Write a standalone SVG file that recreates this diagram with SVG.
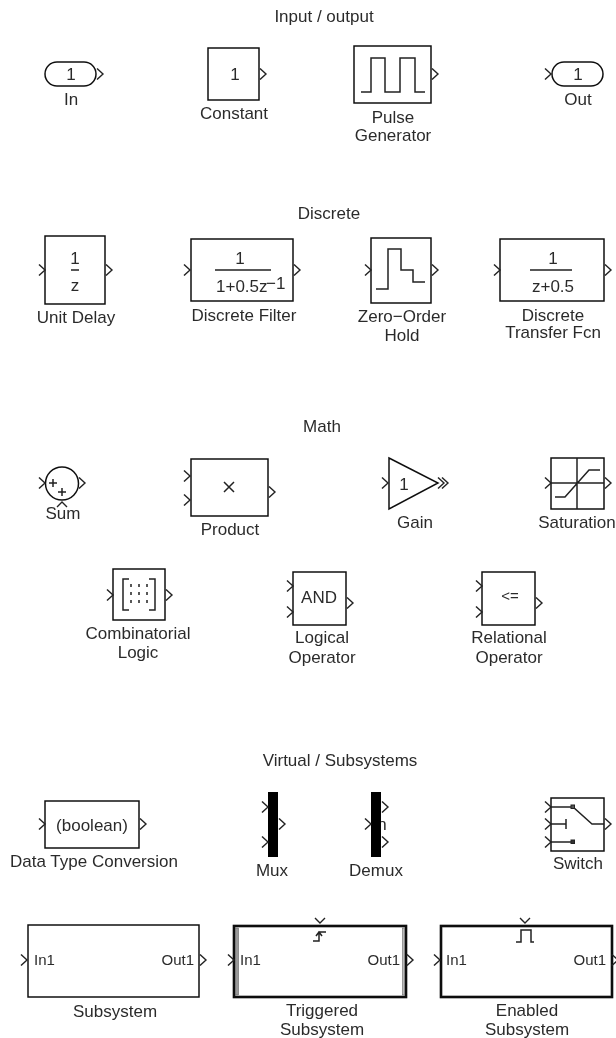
<svg xmlns="http://www.w3.org/2000/svg" width="616" height="1038" viewBox="0 0 616 1038">
<style>
text{font-family:"Liberation Sans",Arial,sans-serif;font-size:17px;fill:#2c2c2c;text-anchor:middle}
.b{fill:#fff;stroke:#111;stroke-width:1.5}
.t{fill:none;stroke:#111;stroke-width:2.6}
.l{fill:none;stroke:#222;stroke-width:1.5}
.p{fill:none;stroke:#222;stroke-width:1.4}
.s{text-anchor:start}.e{text-anchor:end}
.f{font-size:15px}
</style>
<defs>
<filter id="soft" x="0" y="0" width="100%" height="100%"><feGaussianBlur stdDeviation="0.3"/></filter>
<path id="pr" class="p" d="M0-5.500L6 0L0 5.500"/>
<path id="pd" class="p" d="M-5 0L0 5L5 0"/>
</defs>
<rect width="616" height="1038" fill="#fff"/>
<g filter="url(#soft)">
<g id="titles">
<text x="324" y="22">Input / output</text>
<text x="329" y="219">Discrete</text>
<text x="322" y="432">Math</text>
<text x="340" y="766">Virtual / Subsystems</text>
</g>
<g id="in"><rect class="b" x="45" y="62" width="51" height="24" rx="12"/><text x="71" y="80">1</text><use href="#pr" x="97" y="74"/><text x="71" y="105">In</text></g>
<g id="constant"><rect class="b" x="208" y="48" width="51" height="52"/><text x="235" y="80">1</text><use href="#pr" x="260" y="74"/><text x="234" y="119">Constant</text></g>
<g id="pulse"><rect class="b" x="354" y="46" width="77" height="57"/><path class="l" d="M361 92H371V58H385V92H400V58H415V92H425"/><use href="#pr" x="432" y="74"/><text x="393" y="123">Pulse</text><text x="393" y="141">Generator</text></g>
<g id="out"><rect class="b" x="552" y="62" width="51" height="24" rx="12"/><text x="578" y="80">1</text><use href="#pr" x="545" y="74"/><text x="578" y="105">Out</text></g>

<g id="unit-delay"><rect class="b" x="45" y="236" width="60" height="68"/><text x="75" y="264">1</text><path class="l" d="M71 270H79"/><text x="75" y="291">z</text><use href="#pr" x="39" y="270"/><use href="#pr" x="106" y="270"/><text x="76" y="323">Unit Delay</text></g>
<g id="discrete-filter"><rect class="b" x="191" y="239" width="102" height="62"/><text x="240" y="264">1</text><path class="l" d="M215 270H271"/><text class="s" x="216" y="292">1+0.5z</text><text class="s" x="266" y="289">−1</text><use href="#pr" x="184" y="270"/><use href="#pr" x="294" y="270"/><text x="244" y="321">Discrete Filter</text></g>
<g id="zoh"><rect class="b" x="371" y="238" width="60" height="65"/><path class="l" d="M376 289H388V249H401V270H413V282H425"/><use href="#pr" x="365" y="270"/><use href="#pr" x="432" y="270"/><text x="402" y="322">Zero−Order</text><text x="402" y="341">Hold</text></g>
<g id="dtf"><rect class="b" x="500" y="239" width="104" height="62"/><text x="553" y="264">1</text><path class="l" d="M530 270H572"/><text x="553" y="292">z+0.5</text><use href="#pr" x="494" y="270"/><use href="#pr" x="605" y="270"/><text x="553" y="321">Discrete</text><text x="553" y="338">Transfer Fcn</text></g>

<g id="sum"><circle class="b" cx="62" cy="483.500" r="16.500"/><path class="l" d="M49 483H57M53 479V487M58 492H66M62 488V496"/><use href="#pr" x="39" y="483"/><use href="#pr" x="79" y="483"/><path class="p" d="M57 507L62 502L67 507"/><text x="63" y="519">Sum</text></g>
<g id="product"><rect class="b" x="191" y="459" width="77" height="57"/><path class="l" d="M224 482L234 492M234 482L224 492"/><use href="#pr" x="184" y="476"/><use href="#pr" x="184" y="500"/><use href="#pr" x="269" y="492"/><text x="230" y="535">Product</text></g>
<g id="gain"><path class="b" d="M389 458L438 483L389 509Z"/><text x="404" y="490">1</text><use href="#pr" x="382" y="483"/><use href="#pr" x="438" y="483"/><use href="#pr" x="442" y="483"/><text x="415" y="528">Gain</text></g>
<g id="saturation"><rect class="b" x="551" y="458" width="53" height="51"/><path class="l" d="M577 458V509M551 483H604M555 497H565L589 470H600"/><use href="#pr" x="545" y="483"/><use href="#pr" x="605" y="483"/><text x="577" y="528">Saturation</text></g>

<g id="comb"><rect class="b" x="113" y="569" width="52" height="51"/><path class="l" d="M129 579H123V610H129M149 579H155V610H149"/><path d="M131 584v3M139 584v3M147 584v3M131 592v3M139 592v3M147 592v3M131 600v3M139 600v3M147 600v3" class="l"/><use href="#pr" x="107" y="595"/><use href="#pr" x="166" y="595"/><text x="138" y="639">Combinatorial</text><text x="138" y="658">Logic</text></g>
<g id="logical"><rect class="b" x="293" y="572" width="53" height="53"/><text x="319" y="603">AND</text><use href="#pr" x="287" y="586"/><use href="#pr" x="287" y="612"/><use href="#pr" x="347" y="603"/><text x="322" y="643">Logical</text><text x="322" y="663">Operator</text></g>
<g id="relational"><rect class="b" x="482" y="572" width="53" height="53"/><text class="f" x="510" y="601">&lt;=</text><use href="#pr" x="476" y="586"/><use href="#pr" x="476" y="612"/><use href="#pr" x="536" y="603"/><text x="509" y="643">Relational</text><text x="509" y="663">Operator</text></g>

<g id="dtc"><rect class="b" x="45" y="801" width="94" height="47"/><text x="92" y="831">(boolean)</text><use href="#pr" x="39" y="824"/><use href="#pr" x="140" y="824"/><text x="94" y="867">Data Type Conversion</text></g>
<g id="mux"><rect x="268" y="792" width="10" height="65" fill="#000"/><use href="#pr" x="262" y="807"/><use href="#pr" x="262" y="842"/><use href="#pr" x="279" y="824"/><text x="272" y="876">Mux</text></g>
<g id="demux"><text x="382" y="830">n</text><rect x="371" y="792" width="10" height="65" fill="#000"/><use href="#pr" x="365" y="824"/><use href="#pr" x="382" y="807"/><use href="#pr" x="382" y="842"/><text x="376" y="876">Demux</text></g>
<g id="switch"><rect class="b" x="551" y="798" width="53" height="53"/><path class="l" d="M551 807H573L592 824H604M551 824H566M566 819V829M551 842H573"/><rect x="571" y="805" width="3.500" height="3.500" fill="#555" stroke="#222"/><rect x="571" y="840" width="3.500" height="3.500" fill="#333" stroke="#222"/><use href="#pr" x="545" y="807"/><use href="#pr" x="545" y="824"/><use href="#pr" x="545" y="842"/><use href="#pr" x="605" y="824"/><text x="578" y="869">Switch</text></g>

<g id="subsystem"><rect class="b" x="28" y="925" width="171" height="72"/><text class="s f" x="34" y="965">In1</text><text class="e f" x="194" y="965">Out1</text><use href="#pr" x="21" y="960"/><use href="#pr" x="200" y="960"/><text x="115" y="1017">Subsystem</text></g>
<g id="triggered"><rect class="t" x="234" y="926" width="172" height="71"/><rect x="235.500" y="928" width="3" height="67" fill="#999" stroke="#555" stroke-width=".5"/><rect x="402.500" y="928" width="2" height="67" fill="#bbb" stroke="#555" stroke-width=".5"/><text class="s f" x="240" y="965">In1</text><text class="e f" x="400" y="965">Out1</text><path class="l" d="M313 941H319V932H326M316 936L319 932L322 936"/><use href="#pr" x="228" y="960"/><use href="#pr" x="407" y="960"/><use href="#pd" x="320" y="918"/><text x="322" y="1016">Triggered</text><text x="322" y="1035">Subsystem</text></g>
<g id="enabled"><rect class="t" x="441" y="926" width="171" height="71"/><text class="s f" x="446" y="965">In1</text><text class="e f" x="606" y="965">Out1</text><path class="l" d="M516 942H521V930H531V942H534"/><use href="#pr" x="434" y="960"/><use href="#pr" x="612" y="960"/><use href="#pd" x="525" y="918"/><text x="527" y="1016">Enabled</text><text x="527" y="1035">Subsystem</text></g>
</g>
</svg>
